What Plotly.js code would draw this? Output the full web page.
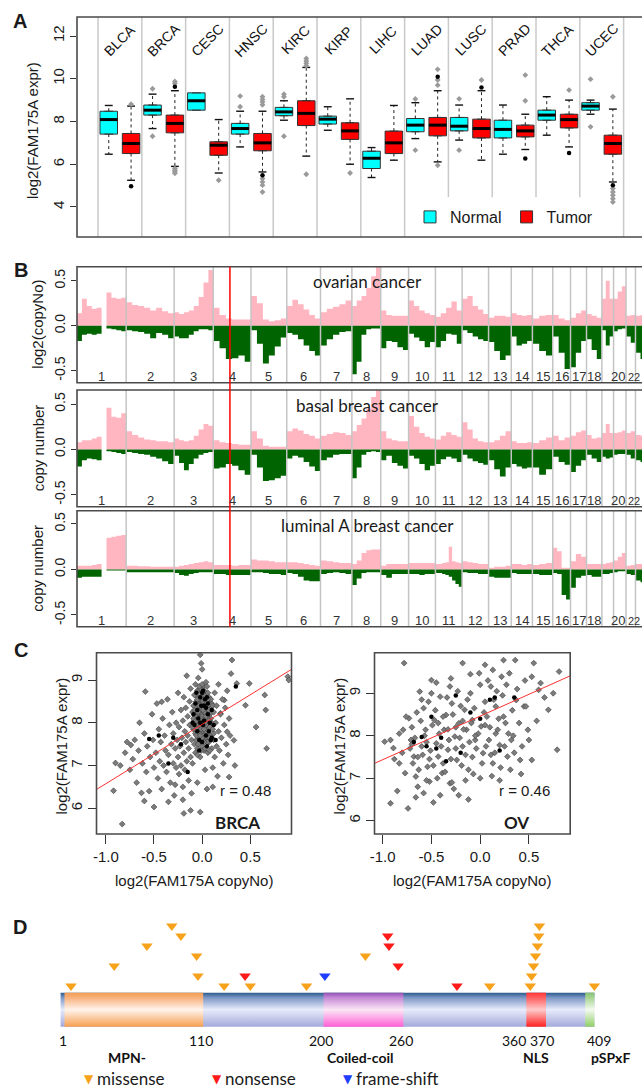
<!DOCTYPE html>
<html><head><meta charset="utf-8">
<script src="https://cdn.plot.ly/plotly-3.0.1.min.js"></script>
<style>html,body{margin:0;padding:0;background:#fff;overflow:hidden}#fig{width:642px;height:1089px}</style>
</head><body><div id="fig"></div>
<script>
// ===================== Panel A data =====================
const cancerTypes = ['BLCA','BRCA','CESC','HNSC','KIRC','KIRP','LIHC','LUAD','LUSC','PRAD','THCA','UCEC'];
const normalQ1  = [7.41,8.30,8.53,7.41,8.27,7.88,5.80,7.52,7.56,7.23,8.06,8.53];
const normalMed = [8.09,8.53,8.97,7.67,8.45,8.11,6.28,7.83,7.78,7.63,8.30,8.72];
const normalQ3  = [8.48,8.77,9.34,7.91,8.66,8.25,6.61,8.14,8.19,8.06,8.53,8.88];
const normalLo  = [6.47,7.67,8.53,6.81,8.06,7.59,5.38,7.20,7.13,6.47,7.36,8.34];
const normalHi  = [8.75,9.28,9.34,8.48,8.97,8.69,6.78,8.88,8.77,8.77,9.16,9.00];
const tumorQ1   = [6.50,7.47,6.42,6.63,7.81,7.16,6.50,7.33,7.23,7.28,7.70,6.47];
const tumorMed  = [6.97,7.91,6.89,7.00,8.38,7.56,7.00,7.83,7.67,7.56,8.09,6.97];
const tumorQ3   = [7.44,8.30,7.05,7.44,8.97,7.94,7.55,8.19,8.11,7.83,8.34,7.36];
const tumorLo   = [5.25,5.90,5.59,5.64,6.38,6.00,6.19,6.11,6.19,6.69,6.81,5.17];
const tumorHi   = [8.72,9.44,8.09,8.48,10.53,9.06,8.75,9.44,9.44,8.34,9.00,8.58];
const normalOutCat = [1,1,3,3,4,4,4,7,7,8,8,11,11];
const normalOutVal = [9.53,7.31,9.19,8.69,9.28,9.16,7.31,9.05,6.66,9.06,6.66,9.98,7.75];
const tumorOutCat = [0,1,1,1,1,1,1,2,3,3,3,3,3,3,3,3,4,4,4,4,4,5,7,7,7,7,8,9,9,10,11,11,11,11,11,11];
const tumorOutVal = [8.81,9.87,9.78,5.80,5.72,5.65,5.58,5.25,9.16,9.03,8.91,8.78,5.33,5.17,5.02,4.70,10.95,10.83,10.72,10.61,5.53,5.59,10.44,9.94,9.70,5.95,9.94,10.17,8.97,9.47,9.16,4.86,4.70,4.55,4.39,4.23];
const tumorDarkCat = [0,1,3,7,8,9,10,11];
const tumorDarkVal = [4.97,9.63,5.48,10.09,9.59,6.27,6.53,5.02];

// ===================== Panel B data =====================
const chrLen = [249,243,198,191,181,171,159,146,141,136,135,134,115,107,103,90,81,78,59,63,48,51];
const chrLabels = ['1','2','3','4','5','6','7','8','9','10','11','12','13','14','15','16','17','18','','20','','22'];
const fam175aChr = 4, fam175aMb = 84.4;
const cnTitles = ['ovarian cancer','basal breast cancer','luminal A breast cancer'];
const cnYTitles = ['log2(copyNo)','copy number','copy number'];
const ovGain = [
[0.14,0.30,0.22,0.19,0.20,0,0.37,0.31,0.30,0.31],
[0.26,0.23,0.22,0.20,0.17,0.20,0.16,0.14],
[0.15,0.13,0.15,0.17,0.22,0.32,0.48,0.62],
[0.20,0.12,0.08,0.07,0.07,0.07],
[0.33,0.25,0.07,0.05,0.06,0.08],
[0.22,0.29,0.24,0.18,0.12,0.08],
[0.15,0.19,0.21,0.24,0.28],
[0.22,0.28,0.33,0.42,0.55,0.70],
[0.17,0.12,0.11,0.11,0.11],
[0.28,0.22,0.17,0.14,0.12],
[0.10,0.14,0.20,0.27,0.17],
[0.30,0.33,0.22,0.18,0.13],
[0.09,0.11,0.11,0.10],
[0.14,0.12,0.11,0.12],
[0.08,0.11,0.12],
[0.12,0.08,0.06],
[0.09,0.14,0.17],
[0.13,0.11,0.09],
[0.30,0.50,0.30],
[0.30,0.38,0.44],
[0.11,0.12],
[0.11,0.12]];
const ovLoss = [
[-0.17,-0.10,-0.09,-0.10,-0.09,0,-0.03,-0.04,-0.05,-0.06],
[-0.05,-0.06,-0.07,-0.09,-0.14,-0.08,-0.10,-0.14],
[-0.12,-0.14,-0.14,-0.10,-0.06,-0.04,-0.04,-0.05],
[-0.17,-0.25,-0.37,-0.36,-0.33,-0.40],
[-0.05,-0.20,-0.42,-0.33,-0.23,-0.13],
[-0.08,-0.10,-0.15,-0.22,-0.28,-0.33],
[-0.22,-0.15,-0.10,-0.07,-0.06],
[-0.54,-0.40,-0.10,-0.04,-0.03,-0.03],
[-0.25,-0.17,-0.18,-0.24,-0.27],
[-0.09,-0.13,-0.17,-0.24,-0.18],
[-0.24,-0.17,-0.09,-0.10,-0.20],
[-0.05,-0.08,-0.12,-0.15,-0.17],
[-0.18,-0.28,-0.38,-0.33],
[-0.12,-0.22,-0.20,-0.17],
[-0.20,-0.28,-0.33],
[-0.12,-0.30,-0.48],
[-0.46,-0.30,-0.17],
[-0.15,-0.27,-0.37],
[-0.05,-0.22,-0.12],
[-0.06,-0.04,-0.03],
[-0.12,-0.19],
[-0.30,-0.37]];
const basalGain = [
[0.08,0.10,0.10,0.12,0.14,0,0.46,0.36,0.35,0.40],
[0.20,0.16,0.13,0.11,0.10,0.09,0.09,0.08],
[0.12,0.10,0.09,0.10,0.15,0.22,0.28,0.26],
[0.10,0.08,0.07,0.06,0.05,0.05],
[0.20,0.12,0.04,0.03,0.03,0.03],
[0.20,0.23,0.21,0.17,0.15,0.12],
[0.15,0.17,0.19,0.18,0.16],
[0.20,0.27,0.34,0.45,0.58,0.66],
[0.20,0.12,0.10,0.09,0.09],
[0.37,0.25,0.18,0.14,0.12],
[0.11,0.15,0.19,0.16,0.14],
[0.30,0.22,0.12,0.09,0.08],
[0.08,0.10,0.15,0.20],
[0.09,0.07,0.07,0.08],
[0.07,0.10,0.13],
[0.15,0.10,0.13],
[0.15,0.19,0.21],
[0.16,0.12,0.13],
[0.18,0.28,0.18],
[0.18,0.19,0.21],
[0.18,0.20],
[0.16,0.15]];
const basalLoss = [
[-0.19,-0.12,-0.10,-0.11,-0.12,0,-0.02,-0.03,-0.04,-0.05],
[-0.03,-0.04,-0.05,-0.06,-0.08,-0.10,-0.13,-0.16],
[-0.07,-0.15,-0.23,-0.16,-0.10,-0.06,-0.04,-0.03],
[-0.21,-0.20,-0.16,-0.18,-0.23,-0.28],
[-0.06,-0.20,-0.35,-0.34,-0.32,-0.29],
[-0.10,-0.07,-0.09,-0.14,-0.19,-0.24],
[-0.12,-0.09,-0.06,-0.05,-0.05],
[-0.32,-0.20,-0.06,-0.03,-0.02,-0.03],
[-0.12,-0.07,-0.15,-0.18,-0.21],
[-0.07,-0.10,-0.16,-0.23,-0.18],
[-0.16,-0.11,-0.08,-0.10,-0.14],
[-0.06,-0.10,-0.13,-0.15,-0.17],
[-0.12,-0.22,-0.30,-0.20],
[-0.16,-0.19,-0.21,-0.20],
[-0.20,-0.28,-0.22],
[-0.08,-0.14,-0.17],
[-0.25,-0.18,-0.12],
[-0.06,-0.10,-0.14],
[-0.08,-0.10,-0.09],
[-0.06,-0.05,-0.05],
[-0.06,-0.10],
[-0.12,-0.14]];
const lumAGain = [
[0.04,0.04,0.04,0.05,0.06,0,0.35,0.36,0.37,0.38],
[0.04,0.04,0.035,0.035,0.03,0.03,0.03,0.03],
[0.03,0.04,0.05,0.06,0.07,0.08,0.09,0.08],
[0.05,0.05,0.05,0.04,0.05,0.05],
[0.11,0.10,0.10,0.09,0.08,0.08],
[0.08,0.08,0.07,0.06,0.05,0.04],
[0.10,0.09,0.08,0.07,0.07],
[0.06,0.10,0.18,0.21,0.22,0.22],
[0.04,0.06,0.06,0.06,0.06],
[0.07,0.07,0.07,0.07,0.07],
[0.06,0.06,0.07,0.08,0.25,0.09,0.08,0.07],
[0.09,0.08,0.07,0.06,0.06],
[0.02,0.03,0.03,0.04],
[0.06,0.06,0.05,0.06],
[0.05,0.06,0.07],
[0.24,0.20,0.02,0.02],
[0.09,0.17,0.14],
[0.06,0.06,0.06],
[0.06,0.07,0.08],
[0.10,0.14,0.18],
[0.04,0.05],
[0.06,0.06]];
const lumALoss = [
[-0.09,-0.08,-0.08,-0.08,-0.08,0,-0.01,-0.01,-0.01,-0.01],
[-0.03,-0.03,-0.03,-0.03,-0.03,-0.03,-0.03,-0.03],
[-0.04,-0.06,-0.07,-0.05,-0.04,-0.03,-0.03,-0.03],
[-0.05,-0.05,-0.06,-0.06,-0.06,-0.06],
[-0.03,-0.03,-0.04,-0.05,-0.05,-0.06],
[-0.04,-0.05,-0.08,-0.12,-0.13,-0.13],
[-0.05,-0.04,-0.03,-0.04,-0.05],
[-0.17,-0.10,-0.04,-0.03,-0.03,-0.03],
[-0.06,-0.09,-0.05,-0.05,-0.05],
[-0.05,-0.05,-0.06,-0.05,-0.05],
[-0.04,-0.04,-0.05,-0.06,-0.08,-0.12,-0.16,-0.19],
[-0.03,-0.04,-0.04,-0.05,-0.05],
[-0.08,-0.09,-0.09,-0.09],
[-0.04,-0.05,-0.05,-0.05],
[-0.05,-0.06,-0.06],
[-0.04,-0.05,-0.28,-0.33],
[-0.20,-0.09,-0.07],
[-0.06,-0.08,-0.08],
[-0.05,-0.05,-0.04],
[-0.03,-0.02,-0.02],
[-0.05,-0.06],
[-0.12,-0.14]];

// ===================== Panel C data =====================
const brcaPts = [
[-0.9,7.06],[-0.92,6.41],[-0.83,5.63],[-0.74,7.48],[-0.59,8.73],[-0.63,6.36],[-0.6,6.17],[-0.5,6.03],[-0.42,8.49],[-0.19,5.88],[-0.02,5.91],[-0.02,9.59],[-0.01,9.39],[0.31,9.47],[0.36,8.92],[0.45,8.41],[0.49,8.92],[0.65,8.65],[0.66,8.3],[0.56,7.9],[0.67,7.4],[0.89,9.08],[0.9,9.0],[0.34,7.0],[0.33,7.59],[0.28,6.73],[0.23,8.53],[0.11,6.5],[0.19,8.22],[0.26,7.79],
[-0.85,7.0],[-0.8,7.3],[-0.78,7.55],[-0.75,6.9],[-0.72,7.15],[-0.7,7.6],[-0.68,6.6],[-0.66,7.35],[-0.65,8.0],[-0.62,7.05],[-0.6,7.75],[-0.58,6.85],[-0.57,7.45],[-0.55,6.4],[-0.54,7.2],[-0.52,8.2],[-0.51,7.6],[-0.5,6.95],
[-0.48,7.3],[-0.47,8.45],[-0.46,6.7],[-0.45,7.85],[-0.44,7.1],[-0.43,7.55],[-0.42,6.45],[-0.41,8.1],[-0.4,7.0],[-0.39,7.7],[-0.38,7.35],[-0.37,6.85],[-0.36,8.55],[-0.35,7.25],[-0.34,7.95],[-0.33,6.6],[-0.32,7.5],[-0.31,8.25],[-0.3,7.05],[-0.3,7.75],[-0.29,6.3],[-0.28,7.4],[-0.27,8.0],[-0.27,6.95],[-0.26,7.6],[-0.25,8.7],[-0.25,7.2],
[-0.24,6.8],[-0.24,7.9],[-0.23,7.45],[-0.22,8.3],[-0.22,7.0],[-0.21,7.65],[-0.2,6.5],[-0.2,8.05],[-0.19,7.3],[-0.19,8.6],[-0.18,7.8],[-0.18,6.9],[-0.17,7.55],[-0.17,8.35],[-0.16,7.1],[-0.16,9.1],[-0.15,7.7],[-0.15,8.15],[-0.14,6.65],[-0.14,7.4],[-0.13,8.5],[-0.13,7.95],[-0.12,7.2],[-0.12,8.8],[-0.11,7.6],[-0.11,6.35],[-0.1,8.25],[-0.1,7.05],
[-0.09,7.85],[-0.09,8.4],[-0.08,7.5],[-0.08,8.65],[-0.08,8.05],[-0.07,7.3],[-0.07,8.9],[-0.07,7.75],[-0.06,8.25],[-0.06,8.5],[-0.06,7.6],[-0.05,8.0],[-0.05,8.75],[-0.05,7.4],[-0.04,8.35],[-0.04,7.9],[-0.04,9.05],[-0.03,7.65],[-0.03,8.15],[-0.03,8.55],[-0.02,7.2],[-0.02,8.45],[-0.02,7.95],[-0.01,8.7],[-0.01,7.55],[-0.01,8.2],[0.0,7.8],[0.0,8.6],[0.0,8.3],[0.0,7.45],[0.0,9.25],[0.01,8.05],[0.01,8.85],[0.01,7.7],[0.02,8.4],[0.02,7.35],[0.02,8.15],[0.03,8.65],[0.03,7.9],[0.03,6.9],[0.04,8.25],[0.04,7.6],[0.04,8.95],[0.05,8.5],[0.05,7.75],[0.05,8.0],[0.06,7.3],[0.06,8.35],[0.06,8.7],[0.07,7.95],[0.07,7.55],[0.08,8.2],[0.08,8.55],[0.09,7.7],[0.09,8.1],[0.1,7.4],[0.1,8.45],
[-0.06,7.95],[-0.05,8.2],[-0.04,8.6],[-0.03,7.75],[-0.02,8.3],[-0.01,8.0],[0.0,8.45],[0.01,7.6],[0.02,8.75],[0.03,8.1],[0.04,7.8],[0.05,8.3],[0.06,7.9],[0.07,8.6],[0.08,7.65],[0.09,8.35],[-0.07,8.15],[-0.06,7.7],[-0.05,8.55],[-0.04,7.5],[-0.03,8.4],[-0.02,8.8],[-0.01,7.85],[0.0,8.15],[0.01,8.5],[0.02,7.85],[0.03,8.35],[0.04,8.5],[0.05,7.55],[0.06,8.1],[0.07,8.3],[0.08,7.9],[0.09,8.55],[0.0,7.65],[0.0,8.0],[-0.02,8.1],[0.02,8.25],[0.04,7.95],[-0.04,8.25],[0.06,8.55],[-0.08,8.3],[0.1,8.0],[0.11,8.4],[-0.1,7.9],[-0.09,8.1],[0.12,7.75],[0.05,8.85],[-0.05,7.25],[0.03,7.4],[0.08,7.35],[-0.03,8.85],[0.01,8.3],[0.0,8.9],[-0.01,7.35],[0.02,7.55],[0.07,8.05],[-0.06,8.05],[0.04,8.15],[-0.02,7.7],[0.03,8.0],
[0.11,7.85],[0.11,6.95],[0.12,8.25],[0.12,7.6],[0.13,8.7],[0.13,7.2],[0.14,8.0],[0.15,7.45],[0.15,8.4],[0.16,6.75],[0.17,7.8],[0.17,8.9],[0.18,7.35],[0.19,8.2],[0.2,7.65],[0.21,8.55],[0.22,7.05],[0.23,7.95],[0.24,8.35],[0.25,7.5],[0.26,8.75],[0.27,7.25],[0.28,8.1],[0.29,7.7],[0.3,9.15],
[-0.35,6.15],[-0.2,6.2],[-0.12,5.95],[-0.05,6.6],[0.05,6.45],[-0.28,6.55]];
const brcaDark = [[-0.55,7.62],[-0.45,7.7],[-0.35,7.05],[-0.22,7.5],[-0.15,6.85],[0.1,7.65],[0.35,8.85],[-0.3,7.65],[0.05,8.6],[-0.02,8.0],[0.02,8.4],[-0.05,7.8],[0.0,8.7],
[-0.07,8.45],[-0.04,8.1],[0.01,7.95],[0.04,8.35],[0.07,7.8],[-0.03,7.6],[0.06,8.2],[-0.06,8.7],[0.03,8.55],[-0.01,8.4],[0.08,8.0],[-0.08,7.95],[0.0,7.55],[0.05,7.45],[-0.02,8.6],[0.02,8.05],[-0.05,8.3],[0.09,7.6],[-0.09,8.2],[0.01,8.75],[0.04,7.7],[-0.03,7.35],[0.06,8.45],[0.1,8.3],[-0.1,8.0],[0.12,7.95],[0.14,7.6]];
const brcaFitX = [-1.097, 0.928], brcaFitY = [6.44, 9.25];
const ovPts = [
[-0.98,7.86],[-0.89,7.71],[-0.83,7.35],[-0.79,8.14],[-0.77,7.12],[-0.73,8.41],[-0.71,7.9],[-0.68,7.51],[-0.66,7.04],[-0.64,6.8],[-0.6,7.75],[-0.58,8.65],[-0.56,8.14],[-0.54,7.27],[-0.52,6.92],[-0.5,9.31],[-0.47,8.37],[-0.45,7.82],[-0.43,7.51],[-0.41,8.92],[-0.39,7.12],[-0.37,8.14],[-0.35,8.49],[-0.33,7.67],[-0.31,6.88],[-0.29,8.76],[-0.26,7.98],[-0.24,7.43],[-0.22,8.29],[-0.18,7.75],[-0.16,8.61],[-0.14,8.14],[-0.12,7.2],[-0.1,9.0],[-0.08,8.37],[-0.05,7.9],[-0.01,9.47],[0.01,8.22],[0.03,7.59],[0.05,8.8],[0.07,8.45],[0.09,7.9],[0.11,9.16],[0.13,7.35],[0.16,8.69],[0.18,8.14],[0.2,7.78],[0.22,9.39],[0.24,8.45],[0.28,7.51],[0.32,7.9],[0.37,8.84],[0.41,7.43],[0.45,8.69],[0.49,8.14],[0.53,7.43],[0.62,9.24],[0.7,8.61],[0.79,7.67],
[-0.92,7.9],[-0.88,7.45],[-0.85,6.7],[-0.8,7.6],[-0.78,9.71],[-0.92,6.41],[-0.74,6.29],[-0.62,9.04],[-0.48,6.43],[-0.31,9.16],[-0.18,9.71],[0.05,9.67],[0.24,9.78],[0.36,9.78],[0.55,9.71],[0.81,9.51],[0.53,9.39],[0.47,8.69],[0.6,9.08],[0.3,9.47],
[-0.72,7.7],[-0.7,8.2],[-0.69,7.35],[-0.67,7.95],[-0.65,8.55],[-0.63,7.2],[-0.61,8.35],[-0.59,7.55],[-0.57,8.0],[-0.55,6.95],[-0.53,8.8],[-0.51,7.65],[-0.49,8.25],[-0.48,7.3],[-0.46,8.6],[-0.44,7.0],[-0.42,8.05],[-0.4,7.75],[-0.38,8.45],[-0.36,7.15],[-0.34,8.9],[-0.32,7.9],[-0.3,7.45],[-0.28,8.5],[-0.27,6.75],[-0.25,7.7],[-0.23,9.05],[-0.21,7.95],[-0.2,8.7],[-0.19,7.3],[-0.17,8.15],[-0.15,7.55],[-0.13,8.85],[-0.11,7.85],[-0.09,8.3],[-0.07,7.1],[-0.06,8.65],[-0.04,7.7],[-0.02,8.05],[0.0,9.2],[0.02,7.35],[0.04,8.55],[0.06,7.75],[0.08,9.3],[0.1,8.2],[0.12,7.05],[0.14,8.85],[0.15,7.6],[0.17,9.05],[0.19,8.4],[0.21,7.25],[0.23,8.95],[0.25,7.75],[0.27,9.2],[0.29,8.05],[0.31,7.2],[0.33,8.6],[0.35,7.6],[0.38,9.1],[0.4,8.3],[0.43,7.75],[0.46,9.3],[0.5,7.9],[0.58,8.35],[0.66,8.9],[0.75,9.0],[-0.83,8.05],[-0.76,8.45],[-0.66,6.55],[-0.58,6.65],[-0.5,9.0],[-0.41,6.6],[-0.29,6.9],[-0.22,6.6],[-0.12,6.5],[-0.3,9.35],[-0.1,9.45],[0.13,9.55],[-0.45,9.25],[-0.6,8.85],[-0.15,6.95],[0.0,7.0],[0.2,6.95],[0.42,7.1],[-0.52,7.45],[-0.38,7.35],[-0.25,8.2],[-0.05,8.0],[0.11,7.55],[0.26,8.3],[-0.7,7.8],[-0.55,7.85],[-0.43,8.3],[-0.33,8.15],[-0.18,8.35],[-0.08,7.5],[0.05,8.25],[0.16,8.05],[0.34,8.0],[-0.64,7.5]];
const ovDark = [[-0.68,7.85],[-0.6,7.97],[-0.5,8.45],[-0.25,8.95],[-0.2,7.6],[-0.45,7.7],[-0.1,8.55],[0.0,8.4],[0.15,8.9],[0.35,8.9],[-0.35,7.4],[0.2,7.65],[-0.55,7.75],[-0.4,7.95],[0.1,8.85]];
const ovFitX = [-1.084, 0.924], ovFitY = [7.35, 9.41];
const corrText = ['r = 0.48','r = 0.46'];
const corrSets = ['BRCA','OV'];

// ===================== Panel D data =====================
const proteinLen = 409;
const domainNames = ['MPN-','Coiled-coil','NLS','pSPxF'];
const domainStart = [4, 202, 357, 402];
const domainEnd   = [110, 263, 372, 409];
const domainLabelAA = [52, 230, 364, 421];
const aaTicks = [1,110,200,260,360,370,409];
const aaTickShift = [2,-2,0,2,-16,-1,5];
const missenseAA = [9,42,67,86,93,105,106,126,146,189,234,329,360,361,362.5,364,365.5,366.5,367,409];
const missenseLvl= [0,2,4,6,5,3,1,0,0,0,3,0,0,1,2,3,4,5,6,0];
const nonsenseAA = [142,251,252,259,304];
const nonsenseLvl= [1,5,4,2,0];
const frameAA = [203];
const frameLvl= [1];
const mutNames = ['missense','nonsense','frame-shift'];
const mutColors = ['#F7A21B','#FF1A1A','#1F3DFF'];

// ===================== helpers =====================
const W=642,H=1089;
const PX=v=>v/W, PY=v=>1-v/H;
const F='"Liberation Sans", Arial, Helvetica, sans-serif';
const FL='Lato, "Open Sans", sans-serif';
const traces=[], shapes=[], ann=[];
function txt(x,y,text,size,family,extra){
  ann.push(Object.assign({xref:'paper',yref:'paper',x:PX(x),y:PY(y),text:text,showarrow:false,
    xanchor:'center',yanchor:'middle',font:{family:family||F,size:size||15,color:'#1a1a1a'}},extra||{}));
}
function frame(x0,y0,x1,y1){
  shapes.push({type:'rect',xref:'paper',yref:'paper',x0:PX(x0),x1:PX(x1),y0:PY(y1),y1:PY(y0),
    line:{color:'#4a4a4a',width:1.6},fillcolor:'rgba(0,0,0,0)',layer:'above'});
}

// ===================== Panel A =====================
const posN = cancerTypes.map((_,i)=>i-0.255), posT = cancerTypes.map((_,i)=>i+0.255);
for(let s=-0.5;s<=11.5;s+=1){
  const clip = (s>7 && s<11);
  shapes.push({type:'line',xref:'x',yref:'y',x0:s,x1:s,y0:clip?4.46:2.596,y1:12.889,line:{color:'#c9c9c9',width:1.5},layer:'below'});
}
function boxTrace(name,pos,q1,med,q3,color){
  return {type:'box',name:name,x:pos,q1:q1,median:med,q3:q3,lowerfence:q1,upperfence:q3,width:0.4,
    fillcolor:color,line:{color:'#333',width:1},boxpoints:false,xaxis:'x',yaxis:'y',hoverinfo:'skip',showlegend:true};
}
function whisk(pos,q1,q3,lo,hi){
  const x=[],y=[],cx=[],cy=[];
  pos.forEach((p,i)=>{
    if(hi[i]>q3[i]){x.push(p,p,null);y.push(q3[i],hi[i],null);cx.push(p-0.09,p+0.09,null);cy.push(hi[i],hi[i],null);}
    if(lo[i]<q1[i]){x.push(p,p,null);y.push(q1[i],lo[i],null);cx.push(p-0.09,p+0.09,null);cy.push(lo[i],lo[i],null);}
  });
  traces.push({type:'scatter',mode:'lines',x:x,y:y,line:{color:'#222',width:1,dash:'3px,3px'},xaxis:'x',yaxis:'y',showlegend:false,hoverinfo:'skip'});
  traces.push({type:'scatter',mode:'lines',x:cx,y:cy,line:{color:'#111',width:1.4},xaxis:'x',yaxis:'y',showlegend:false,hoverinfo:'skip'});
}
whisk(posN,normalQ1,normalQ3,normalLo,normalHi);
whisk(posT,tumorQ1,tumorQ3,tumorLo,tumorHi);
traces.push(boxTrace('Normal',posN,normalQ1,normalMed,normalQ3,'#00FFFF'));
traces.push(boxTrace('Tumor',posT,tumorQ1,tumorMed,tumorQ3,'#FF0000'));
function medians(pos,med){
  const x=[],y=[]; pos.forEach((p,i)=>{x.push(p-0.2,p+0.2,null);y.push(med[i],med[i],null);});
  traces.push({type:'scatter',mode:'lines',x:x,y:y,line:{color:'#000',width:3},xaxis:'x',yaxis:'y',showlegend:false,hoverinfo:'skip'});
}
medians(posN,normalMed); medians(posT,tumorMed);
traces.push({type:'scatter',mode:'markers',x:normalOutCat.map(c=>c-0.255),y:normalOutVal,marker:{symbol:'diamond',size:4.5,color:'#9a9a9a'},xaxis:'x',yaxis:'y',showlegend:false,hoverinfo:'skip'});
traces.push({type:'scatter',mode:'markers',x:tumorOutCat.map(c=>c+0.255),y:tumorOutVal,marker:{symbol:'diamond',size:4.5,color:'#9a9a9a'},xaxis:'x',yaxis:'y',showlegend:false,hoverinfo:'skip'});
traces.push({type:'scatter',mode:'markers',x:tumorDarkCat.map(c=>c+0.255),y:tumorDarkVal,marker:{symbol:'circle',size:4.5,color:'#000'},xaxis:'x',yaxis:'y',showlegend:false,hoverinfo:'skip'});
cancerTypes.forEach((c,i)=>{
  ann.push({xref:'x',yref:'paper',x:i,y:PY(40),text:c,showarrow:false,textangle:-45,xanchor:'center',yanchor:'middle',font:{family:F,size:14,color:'#111'}});
});
frame(77,17,700,237);
txt(33,131,'log2(FAM175A expr)',15,F,{textangle:-90});
txt(20.5,21.5,'<b>A</b>',20,F);

// ===================== Panel B =====================
const chrStart=[]; {let a=0; chrLen.forEach(l=>{chrStart.push(a);a+=l;});}
const famPos = chrStart[fam175aChr-1]+fam175aMb;
const cnSets=[[ovGain,ovLoss],[basalGain,basalLoss],[lumAGain,lumALoss]];
const cnTop=[266.7,390,510.7], cnBot=[382.7,506.7,626.7];
function stepArea(arr,color,xa,ya){
  const xs=[],vs=[];
  arr.forEach((seg,c)=>{
    const w=chrLen[c]/seg.length;
    seg.forEach((v,k)=>{xs.push(chrStart[c]+k*w);vs.push(v);});
    xs.push(chrStart[c]+chrLen[c]); vs.push(seg[seg.length-1]);
    xs.push(null); vs.push(null);
  });
  traces.push({type:'scatter',mode:'lines',x:xs,y:vs,line:{shape:'hv',width:0,color:color},fill:'tozeroy',fillcolor:color,connectgaps:false,xaxis:xa,yaxis:ya,showlegend:false,hoverinfo:'skip'});
}
cnSets.forEach((set,p)=>{
  const xa='x'+(p+2), ya='y'+(p+2);
  stepArea(set[0],'#FFB6C1',xa,ya);
  stepArea(set[1],'#006400',xa,ya);
  chrStart.forEach((s,c)=>{ if(c>0) shapes.push({type:'line',xref:xa,yref:'paper',x0:s,x1:s,y0:PY(cnBot[p]),y1:PY(cnTop[p]),line:{color:'#c4c4c4',width:1.5},layer:'above'}); });
  chrLabels.forEach((l,c)=>{
    if(!l) return;
    const last = (c===chrLabels.length-1);
    ann.push({xref:xa,yref:ya,x:last?2860:chrStart[c]+chrLen[c]/2,xshift:(l==='20')?-2:0,y:-0.565,text:l,showarrow:false,xanchor:last?'right':'center',yanchor:'middle',font:{family:F,size:last?11:13,color:'#333'}});
  });
  frame(77,cnTop[p],700,cnBot[p]);
  txt(368,cnTop[p]+15,cnTitles[p],17,FL);
  txt(38,(cnTop[p]+cnBot[p])/2,cnYTitles[p],15,F,{textangle:-90});
});
shapes.push({type:'line',xref:'x2',yref:'paper',x0:famPos,x1:famPos,y0:PY(626.7),y1:PY(266.7),line:{color:'#FF0000',width:1.5},layer:'above'});
txt(21,269.5,'<b>B</b>',20,F);

// ===================== Panel C =====================
const scSets=[[brcaPts,brcaDark,brcaFitX,brcaFitY,'x5','y5'],[ovPts,ovDark,ovFitX,ovFitY,'x6','y6']];
scSets.forEach(s=>{
  traces.push({type:'scatter',mode:'markers',x:s[0].map(p=>p[0]),y:s[0].map(p=>p[1]),marker:{symbol:'diamond',size:4.5,color:'#7c7c7c',line:{color:'#3c3c3c',width:0.6}},xaxis:s[4],yaxis:s[5],showlegend:false,hoverinfo:'skip'});
  traces.push({type:'scatter',mode:'markers',x:s[1].map(p=>p[0]),y:s[1].map(p=>p[1]),marker:{symbol:'circle',size:4.5,color:'#000'},xaxis:s[4],yaxis:s[5],showlegend:false,hoverinfo:'skip'});
  traces.push({type:'scatter',mode:'lines',x:s[2],y:s[3],line:{color:'#FF3030',width:1},xaxis:s[4],yaxis:s[5],showlegend:false,hoverinfo:'skip'});
});
const cL=[96.5,374.5], cR=[291.5,570.2];
[0,1].forEach(i=>{
  frame(cL[i],652.7,cR[i],834);
  txt((cL[i]+cR[i])/2,880,'log2(FAM175A copyNo)',15,F);
  txt(cL[i]-36,746,'log2(FAM175A expr)',15,F,{textangle:-90});
  txt(cR[i]-46,790,corrText[i],15,F);
  txt(cR[i]-54,822.7,'<b>'+corrSets[i]+'</b>',17,FL);
});
txt(21.5,650,'<b>C</b>',20,F);

// ===================== Panel D =====================
const barBot=-4.07, barTop=-0.67;
function rectTrace(x0,x1,cs,mid){
  traces.push({type:'scatter',mode:'lines',x:[x0,x1,x1,x0,x0],y:[barBot,barBot,barTop,barTop,barBot],fill:'toself',
    fillcolor:mid,fillgradient:{type:'vertical',colorscale:cs,start:barBot,stop:barTop},line:{width:0},xaxis:'x7',yaxis:'y7',showlegend:false,hoverinfo:'skip'});
}
rectTrace(1,proteinLen,[[0,'#a3aad9'],[0.5,'#e8ebfb'],[0.85,'#7d98c6'],[1,'#2b5a8c']],'#b9c2e6');
const domScales=[
 [[0,'#f7a050'],[0.5,'#fff3ec'],[0.85,'#f8b27c'],[1,'#f39a52']],
 [[0,'#ff5fd6'],[0.5,'#fbe6f5'],[0.85,'#c58ad6'],[1,'#9151b3']],
 [[0,'#ff2020'],[0.5,'#ffcaca'],[0.85,'#ff6060'],[1,'#ff3535']],
 [[0,'#8fcf66'],[0.5,'#f3faee'],[0.85,'#a9d594'],[1,'#86c070']]];
const domMid=['#fbc9a0','#f0a8e4','#ff8080','#c2e4b0'];
domainStart.forEach((s,i)=>rectTrace(s,domainEnd[i],domScales[i],domMid[i]));
[[missenseAA,missenseLvl],[nonsenseAA,nonsenseLvl],[frameAA,frameLvl]].forEach((m,i)=>{
  traces.push({type:'scatter',mode:'markers',x:m[0],y:m[1],marker:{symbol:'triangle-down',size:10,color:mutColors[i]},xaxis:'x7',yaxis:'y7',showlegend:false,hoverinfo:'skip',cliponaxis:false});
});
aaTicks.forEach((t,i)=>ann.push({xref:'x7',yref:'paper',x:t,y:PY(1040.5),xshift:aaTickShift[i],text:String(t),showarrow:false,xanchor:'center',yanchor:'middle',font:{family:FL,size:14,color:'#111'}}));
domainNames.forEach((n,i)=>ann.push({xref:'x7',yref:'paper',x:domainLabelAA[i],y:PY(1057),text:'<b>'+n+'</b>',showarrow:false,xanchor:'center',yanchor:'middle',font:{family:FL,size:14,color:'#111'}}));
const legX=[89,217,348];
mutNames.forEach((n,i)=>{
  txt(legX[i],1079,'▼',12,'DejaVu Sans',{font:{family:'DejaVu Sans',size:12,color:mutColors[i]}});
  txt(legX[i]+6,1078,n,17,FL,{xanchor:'left'});
});
txt(19.5,926.5,'<b>D</b>',20,F);

// ===================== Layout =====================
const tf={family:F,size:15,color:'#1a1a1a'};
const hid={visible:false,showgrid:false,zeroline:false,fixedrange:true};
const yA={showgrid:false,zeroline:false,showline:false,ticks:'outside',ticklen:6,tickwidth:1,tickcolor:'#333',tickangle:-90,tickfont:tf};
const cnY=(d,r)=>Object.assign({},yA,{domain:d,range:r,tickvals:[-0.5,0,0.5],ticktext:['-0.5','0.0','0.5'],tickfont:{family:F,size:14,color:'#1a1a1a'},ticklen:5});
const layout={
  width:W,height:H,margin:{l:0,r:0,t:0,b:0},paper_bgcolor:'#fff',plot_bgcolor:'rgba(0,0,0,0)',
  showlegend:true,font:{family:F,size:15,color:'#1a1a1a'},
  legend:{orientation:'h',x:PX(410),xanchor:'left',y:PY(217),yanchor:'middle',bgcolor:'rgba(0,0,0,0)',font:{family:F,size:16,color:'#1a1a1a'},itemclick:false},
  xaxis:Object.assign({},hid,{domain:[PX(77),1],range:[-0.98,11.92],anchor:'y'}),
  yaxis:Object.assign({},yA,{domain:[PY(237),PY(17)],range:[2.596,12.889],tickvals:[4,6,8,10,12],anchor:'x'}),
  xaxis2:Object.assign({},hid,{domain:[PX(77),1],range:[0,2861],anchor:'y2'}),
  xaxis3:Object.assign({},hid,{domain:[PX(77),1],range:[0,2861],anchor:'y3'}),
  xaxis4:Object.assign({},hid,{domain:[PX(77),1],range:[0,2861],anchor:'y4'}),
  yaxis2:Object.assign(cnY([PY(382.7),PY(266.7)],[-0.633,0.656]),{anchor:'x2'}),
  yaxis3:Object.assign(cnY([PY(506.7),PY(390)],[-0.633,0.656]),{anchor:'x3'}),
  yaxis4:Object.assign(cnY([PY(626.7),PY(510.7)],[-0.629,0.646]),{anchor:'x4'}),
  xaxis5:{domain:[PX(96.5),PX(291.5)],range:[-1.097,0.928],showgrid:false,zeroline:false,ticks:'outside',ticklen:9,tickcolor:'#333',tickvals:[-1,-0.5,0,0.5],ticktext:['-1.0','-0.5','0.0','0.5'],tickfont:tf,anchor:'y5'},
  yaxis5:Object.assign({},yA,{domain:[PY(834),PY(652.7)],range:[5.398,9.64],tickvals:[6,7,8,9],ticklen:8,anchor:'x5'}),
  xaxis6:{domain:[PX(374.5),PX(570.2)],range:[-1.084,0.924],showgrid:false,zeroline:false,ticks:'outside',ticklen:9,tickcolor:'#333',tickvals:[-1,-0.5,0,0.5],ticktext:['-1.0','-0.5','0.0','0.5'],tickfont:tf,anchor:'y6'},
  yaxis6:Object.assign({},yA,{domain:[PY(834),PY(652.7)],range:[5.687,9.955],tickvals:[6,7,8,9],ticklen:8,anchor:'x6'}),
  xaxis7:Object.assign({},hid,{domain:[0,1],range:[-45.3,445.4],anchor:'y7'}),
  yaxis7:Object.assign({},hid,{domain:[0,PY(905)],range:[-10.3,8.1],anchor:'x7'}),
  shapes:shapes,annotations:ann
};
Plotly.newPlot('fig',traces,layout,{staticPlot:true,displayModeBar:false});
</script></body></html>
